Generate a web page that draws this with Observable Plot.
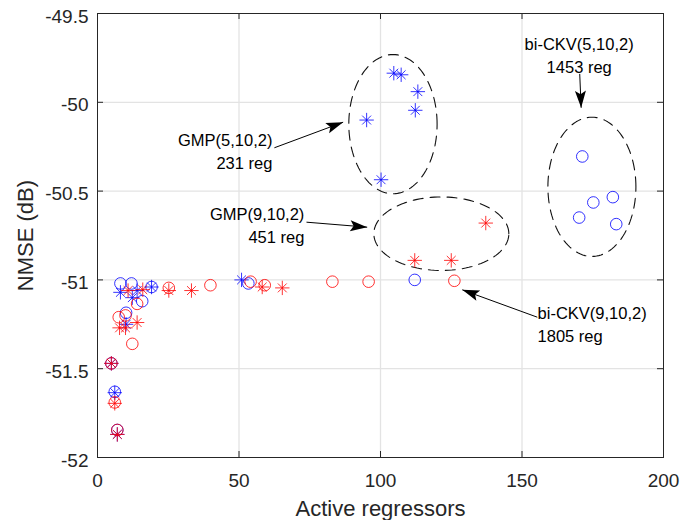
<!DOCTYPE html>
<html>
<head>
<meta charset="utf-8">
<script src="https://cdn.jsdelivr.net/npm/d3@7"></script>
<script src="https://cdn.jsdelivr.net/npm/@observablehq/plot@0.6"></script>
<style>
  body { margin: 0; background: #fff; }
  #chart svg { display: block; }
</style>
</head>
<body>
<div id="chart"></div>
<script>
// ---- Data ----
// bi-CKV(5,10,2): blue circles
const blueCircleX = [8.1, 12.0, 19.1, 15.8, 10.1, 53.3, 4.9, 6.1, 7.0, 112.1, 171.3, 175.2, 182.1, 170.2, 183.3];
const blueCircleY = [-51.02, -51.02, -51.04, -51.12, -51.185, -51.02, -51.47, -51.63, -51.845, -51.0, -50.305, -50.564, -50.534, -50.649, -50.686];
// GMP(5,10,2): blue asterisks
const blueStarX = [8.1, 14.0, 12.3, 19.1, 10.1, 50.9, 4.9, 6.1, 7.0, 104.7, 107.3, 113.2, 112.3, 95.1, 100.2];
const blueStarY = [-51.07, -51.06, -51.10, -51.04, -51.25, -51.0, -51.47, -51.635, -51.87, -49.836, -49.845, -49.94, -50.045, -50.10, -50.436];
// bi-CKV(9,10,2): red circles
const redCircleX = [7.5, 9.9, 14.0, 25.2, 39.9, 54.1, 59.1, 12.3, 4.9, 6.1, 7.0, 83.0, 95.8, 126.1];
const redCircleY = [-51.21, -51.20, -51.135, -51.045, -51.03, -51.01, -51.03, -51.36, -51.47, -51.69, -51.845, -51.01, -51.01, -51.005];
// GMP(9,10,2): red asterisks
const redStarX = [10.8, 16.0, 25.2, 33.2, 58.2, 65.3, 7.8, 9.9, 14.0, 4.9, 6.1, 7.0, 112.1, 125.0, 137.2];
const redStarY = [-51.06, -51.055, -51.06, -51.06, -51.04, -51.045, -51.27, -51.27, -51.24, -51.47, -51.695, -51.87, -50.89, -50.89, -50.68];

const xTicks = [0, 50, 100, 150, 200];
const yTicks = [-52, -51.5, -51, -50.5, -50, -49.5];
const yTickLabels = ["-52", "-51.5", "-51", "-50.5", "-50", "-49.5"];

// Annotation groups (dashed ellipses): center x, center y, radius x, radius y
const ellipseCX = [104.4, 121.5, 174.7];
const ellipseCY = [-50.123, -50.74, -50.476];
const ellipseRX = [15.6, 23.85, 15.55];
const ellipseRY = [0.392, 0.207, 0.392];

// Annotation texts and arrows
const noteText = ["GMP(5,10,2)\n231 reg", "GMP(9,10,2)\n451 reg", "bi-CKV(5,10,2)\n1453 reg", "bi-CKV(9,10,2)\n1805 reg"];
const noteX = [61.8, 73.1, 170.2, 155.5];
const noteY = [-50.269, -50.685, -49.728, -51.243];
const noteAnchor = ["end", "end", "middle", "start"];
const arrowX1 = [62.5, 73.85, 170.4, 155.4];
const arrowY1 = [-50.256, -50.675, -49.84, -51.21];
const arrowX2 = [86.8, 95.3, 170.9, 128.9];
const arrowY2 = [-50.112, -50.703, -50.031, -51.056];

// ---- Layout ----
const W = 697, H = 520, ML = 97, MR = 34, MT = 13, MB = 63;
const xDomain = [0, 200], yDomain = [-52, -49.5];

// ---- Build tables ----
const pts = (xs, ys) => xs.map((x, i) => ({x, y: ys[i]}));
const blueCircles = pts(blueCircleX, blueCircleY);
const blueStars = pts(blueStarX, blueStarY);
const redCircles = pts(redCircleX, redCircleY);
const redStars = pts(redStarX, redStarY);

const ellipses = [];
ellipseCX.forEach((cx, k) => {
  const n = 120;
  for (let i = 0; i <= n; ++i) {
    const t = (i / n) * 2 * Math.PI;
    ellipses.push({k, x: cx + ellipseRX[k] * Math.cos(t), y: ellipseCY[k] + ellipseRY[k] * Math.sin(t)});
  }
});
const notes = noteText.map((t, i) => ({t, x: noteX[i], y: noteY[i], a: noteAnchor[i]}));

// same scales as the plot, to orient the arrowheads in screen space
const sx = Plot.scale({x: {domain: xDomain, range: [ML, W - MR]}});
const sy = Plot.scale({y: {domain: yDomain, range: [H - MB, MT]}});
const arrows = arrowX1.map((x1, i) => {
  const dx = sx.apply(arrowX2[i]) - sx.apply(x1);
  const dy = sy.apply(arrowY2[i]) - sy.apply(arrowY1[i]);
  return {x1, y1: arrowY1[i], x2: arrowX2[i], y2: arrowY2[i], angle: Math.atan2(dx, -dy) * 180 / Math.PI};
});
const headShape = {
  draw(context) {
    const L = 17, w = 5.5;
    context.moveTo(0, 0);
    context.lineTo(-w, L);
    context.lineTo(0, L * 0.8);
    context.lineTo(w, L);
    context.closePath();
  }
};

const BLUE = "#0000ff", RED = "#ff0000";
const tickLenX = 6 / 177.6; // ~6px in y data units
const tickLenY = 6 / 2.83;  // ~6px in x data units

const starMarks = (data, color) => [
  Plot.dot(data, {x: "x", y: "y", symbol: "plus", r: 4.7, stroke: color, strokeWidth: 1, strokeOpacity: 0.8}),
  Plot.dot(data, {x: "x", y: "y", symbol: "times", r: 4.1, stroke: color, strokeWidth: 1, strokeOpacity: 0.8})
];
const noteMarks = ["start", "middle", "end"].map((a) =>
  Plot.text(notes.filter((d) => d.a === a), {x: "x", y: "y", text: "t", textAnchor: a, fontSize: 16.5, lineHeight: 1.38, fill: "#000"})
);

const plot = Plot.plot({
  width: W,
  height: H,
  marginLeft: ML,
  marginRight: MR,
  marginTop: MT,
  marginBottom: MB,
  style: {fontFamily: "'Liberation Sans', Arial, Helvetica, sans-serif", background: "#fff", color: "#262626"},
  x: {domain: xDomain, ticks: xTicks},
  y: {domain: yDomain, ticks: yTicks},
  marks: [
    // grid
    Plot.ruleX(xTicks.slice(1, -1), {stroke: "#e3e3e3", strokeWidth: 1.3}),
    Plot.ruleY(yTicks.slice(1, -1), {stroke: "#e3e3e3", strokeWidth: 1.3}),
    // inward ticks on all four sides
    Plot.ruleX(xTicks, {y1: -52, y2: -52 + tickLenX, stroke: "#262626"}),
    Plot.ruleX(xTicks, {y1: -49.5, y2: -49.5 - tickLenX, stroke: "#262626"}),
    Plot.ruleY(yTicks, {x1: 0, x2: tickLenY, stroke: "#262626"}),
    Plot.ruleY(yTicks, {x1: 200, x2: 200 - tickLenY, stroke: "#262626"}),
    // axes tick labels
    Plot.axisX({ticks: xTicks, tickSize: 0, tickPadding: 16, fontSize: 19, label: null}),
    Plot.axisY({ticks: yTicks, tickSize: 0, tickPadding: 9, fontSize: 19, label: null,
      tickFormat: (d) => yTickLabels[yTicks.indexOf(d)], dy: 3}),
    // dashed ellipses
    Plot.line(ellipses, {x: "x", y: "y", z: "k", stroke: "#111", strokeWidth: 1.1, strokeDasharray: "10,7"}),
    // data
    Plot.dot(blueCircles, {x: "x", y: "y", r: 5.8, stroke: BLUE, strokeWidth: 1, strokeOpacity: 0.8}),
    ...starMarks(blueStars, BLUE),
    Plot.dot(redCircles, {x: "x", y: "y", r: 5.8, stroke: RED, strokeWidth: 1, strokeOpacity: 0.8}),
    ...starMarks(redStars, RED),
    // arrows: shafts + filled heads
    Plot.link(arrows, {x1: "x1", y1: "y1", x2: "x2", y2: "y2", stroke: "#000", strokeWidth: 1}),
    Plot.vector(arrows, {x: "x2", y: "y2", rotate: "angle", anchor: "start", shape: headShape, fill: "#000", stroke: "none", length: 17}),
    // annotation text
    ...noteMarks,
    // frame
    Plot.frame({stroke: "#262626", strokeWidth: 1}),
    // axis titles
    Plot.text(["Active regressors"], {frameAnchor: "bottom", dy: 58, fontSize: 22, fill: "#262626"}),
    Plot.text(["NMSE (dB)"], {frameAnchor: "left", textAnchor: "middle", dx: -72, rotate: -90, fontSize: 22, fill: "#262626"})
  ]
});
document.getElementById("chart").appendChild(plot);
</script>
</body>
</html>
